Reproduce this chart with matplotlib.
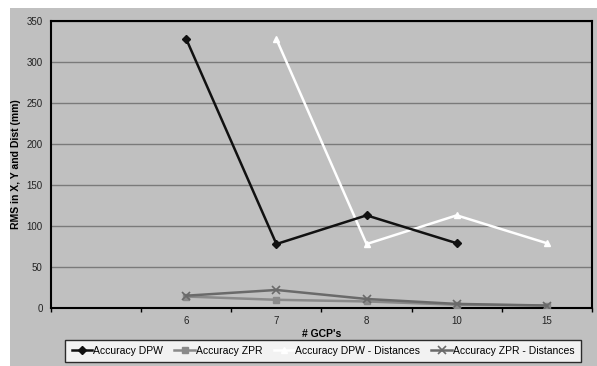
import numpy as np
import matplotlib
matplotlib.use("Agg")
import matplotlib.pyplot as plt
from matplotlib.patches import Rectangle

plt.rcParams['font.family'] = ['Liberation Sans', 'DejaVu Sans']

# data
categories = ['', '6', '7', '8', '10', '15']
dpw = [np.nan, 328, 78, 113, 79, np.nan]
zpr = [np.nan, 14, 10, 8, 4, 3]
dpw_dist = [np.nan, np.nan, 328, 78, 113, 79]
zpr_dist = [np.nan, 15, 22, 11, 5, 3]

fig = plt.figure(figsize=(5.97, 3.66), dpi=100)
fig.patch.set_facecolor('white')
# grey chart area
fig.patches.append(Rectangle((10 / 597, 0), 1, 1 - 8 / 366, transform=fig.transFigure,
                             facecolor='#c0c0c0', edgecolor='none', zorder=-10))

ax = fig.add_axes([51 / 597, 1 - 308 / 366, (592 - 51) / 597, (308 - 21) / 366])
ax.set_facecolor('#c0c0c0')

x = np.arange(len(categories))
ax.plot(x, dpw, color='#111111', lw=1.8, marker='D', ms=4, label='Accuracy DPW', zorder=5)
ax.plot(x, zpr, color='#8a8a8a', lw=1.8, marker='s', ms=5, label='Accuracy ZPR', zorder=3)
ax.plot(x, dpw_dist, color='white', lw=1.8, marker='^', ms=5, label='Accuracy DPW - Distances', zorder=4)
ax.plot(x, zpr_dist, color='#6a6a6a', lw=1.8, marker='x', ms=6, mew=1.2,
        label='Accuracy ZPR - Distances', zorder=3)

ax.set_xlim(-0.5, len(categories) - 0.5)
ax.set_ylim(0, 350)
ax.set_yticks(np.arange(0, 351, 50))
ax.grid(axis='y', color='#7a7a7a', lw=1)
ax.set_axisbelow(True)

ax.set_xticks(x)
ax.set_xticklabels(categories)
ax.set_xticks(np.arange(-0.5, len(categories), 1), minor=True)
ax.tick_params(axis='x', which='major', length=0, labelsize=7, pad=6)
ax.tick_params(axis='x', which='minor', length=3, width=1, direction='out')
ax.tick_params(axis='y', length=0, labelsize=7, pad=6, labelcolor='#222222')
ax.tick_params(axis='x', labelcolor='#222222')

for s in ax.spines.values():
    s.set_linewidth(1.5)
    s.set_color('black')

ax.set_ylabel('RMS in X, Y and Dist (mm)', fontsize=7.5, fontweight='bold', labelpad=4)
ax.set_xlabel("# GCP's", fontsize=7.5, fontweight='bold', labelpad=2)

leg = fig.legend(loc='center', bbox_to_anchor=(323 / 597, 1 - 351 / 366), ncol=4,
                 fontsize=7.5, frameon=True, fancybox=False, edgecolor='black',
                 handlelength=2.0, handletextpad=0.05, columnspacing=1.1,
                 borderpad=0.6)
leg.get_frame().set_linewidth(1)
leg.get_frame().set_facecolor('white')

fig.savefig('out.png', dpi=100, facecolor=fig.get_facecolor())
